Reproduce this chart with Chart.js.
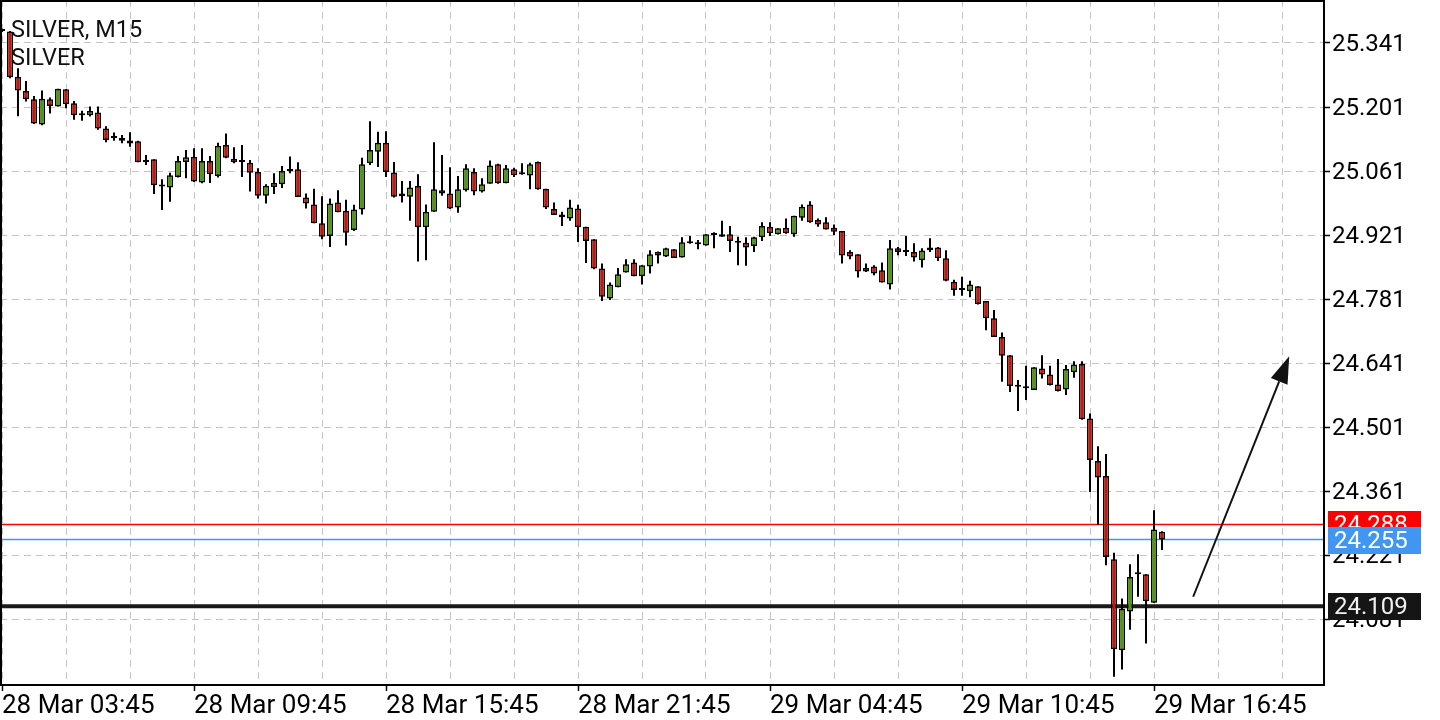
<!DOCTYPE html>
<html>
<head>
<meta charset="utf-8">
<script src="https://cdn.jsdelivr.net/npm/chart.js@4.4.1/dist/chart.umd.min.js"></script>
<style>
  html, body { margin: 0; padding: 0; background: #fff; }
  #wrap { width: 1440px; height: 720px; }
</style>
</head>
<body>
<div id="wrap"><canvas id="chart" width="1440" height="720"></canvas></div>
<script>
// SILVER M15 candles, one entry per bar (bar index = position on the x axis)
const opens = [
  25.369, 25.366, 25.267, 25.236, 25.218, 25.163, 25.218, 25.202, 25.240, 25.209,
  25.183, 25.183, 25.189, 25.154, 25.135, 25.133, 25.128, 25.126, 25.081, 25.087,
  25.027, 25.025, 25.048, 25.081, 25.092, 25.036, 25.083, 25.050, 25.118, 25.088,
  25.081, 25.079, 25.059, 25.007, 25.026, 25.032, 25.065, 25.065, 25.003, 24.988,
  24.947, 24.919, 24.992, 24.974, 24.932, 24.977, 25.078, 25.103, 25.123, 25.058,
  25.012, 25.005, 25.028, 24.938, 24.972, 25.019, 25.012, 24.981, 25.019, 25.059,
  25.016, 25.033, 25.076, 25.034, 25.065, 25.054, 25.051, 25.081, 25.022, 24.978,
  24.966, 24.957, 24.979, 24.939, 24.912, 24.848, 24.782, 24.807, 24.839, 24.861,
  24.831, 24.852, 24.884, 24.874, 24.890, 24.872, 24.903, 24.901, 24.898, 24.921,
  24.923, 24.923, 24.904, 24.904, 24.897, 24.916, 24.939, 24.923, 24.937, 24.923,
  24.959, 24.988, 24.954, 24.949, 24.937, 24.930, 24.884, 24.879, 24.849, 24.852,
  24.844, 24.813, 24.892, 24.884, 24.884, 24.866, 24.894, 24.894, 24.870, 24.819,
  24.801, 24.798, 24.809, 24.777, 24.739, 24.698, 24.658, 24.589, 24.586, 24.582,
  24.629, 24.616, 24.594, 24.583, 24.621, 24.639, 24.520, 24.427, 24.394, 24.212,
  24.013, 24.098, 24.179, 24.179, 24.117, 24.272
];
const highs = [
  25.372, 25.367, 25.286, 25.258, 25.225, 25.237, 25.222, 25.241, 25.240, 25.214,
  25.193, 25.202, 25.202, 25.159, 25.145, 25.140, 25.146, 25.127, 25.096, 25.087,
  25.043, 25.057, 25.094, 25.107, 25.111, 25.111, 25.094, 25.123, 25.143, 25.113,
  25.118, 25.085, 25.067, 25.032, 25.056, 25.072, 25.093, 25.080, 25.012, 25.022,
  25.006, 25.001, 25.019, 24.998, 24.987, 25.090, 25.170, 25.147, 25.148, 25.081,
  25.039, 25.039, 25.054, 24.988, 25.124, 25.096, 25.069, 25.050, 25.076, 25.067,
  25.045, 25.084, 25.077, 25.074, 25.068, 25.078, 25.079, 25.082, 25.022, 24.992,
  24.972, 24.998, 24.987, 24.939, 24.912, 24.859, 24.817, 24.849, 24.868, 24.868,
  24.855, 24.888, 24.885, 24.893, 24.890, 24.916, 24.919, 24.910, 24.923, 24.927,
  24.952, 24.941, 24.917, 24.916, 24.917, 24.949, 24.949, 24.936, 24.957, 24.963,
  24.988, 24.995, 24.957, 24.960, 24.944, 24.930, 24.888, 24.879, 24.859, 24.855,
  24.861, 24.910, 24.895, 24.919, 24.903, 24.892, 24.914, 24.895, 24.888, 24.823,
  24.830, 24.821, 24.809, 24.777, 24.757, 24.708, 24.658, 24.604, 24.635, 24.632,
  24.658, 24.635, 24.650, 24.637, 24.645, 24.645, 24.531, 24.459, 24.442, 24.226,
  24.126, 24.201, 24.223, 24.179, 24.319, 24.273
];
const lows = [
  25.365, 25.264, 25.181, 25.213, 25.164, 25.161, 25.187, 25.202, 25.198, 25.173,
  25.171, 25.180, 25.151, 25.124, 25.127, 25.122, 25.114, 25.080, 25.074, 25.011,
  24.976, 24.994, 25.047, 25.045, 25.037, 25.034, 25.035, 25.047, 25.089, 25.078,
  25.048, 25.016, 25.001, 24.990, 25.011, 25.024, 25.056, 25.004, 24.979, 24.947,
  24.912, 24.895, 24.971, 24.898, 24.930, 24.966, 25.074, 25.070, 25.048, 25.003,
  24.992, 24.952, 24.863, 24.866, 24.972, 25.007, 24.978, 24.970, 25.016, 25.008,
  25.014, 25.033, 25.033, 25.034, 25.048, 25.053, 25.021, 25.020, 24.978, 24.965,
  24.941, 24.952, 24.906, 24.860, 24.846, 24.777, 24.779, 24.807, 24.839, 24.831,
  24.813, 24.837, 24.859, 24.873, 24.871, 24.872, 24.902, 24.890, 24.898, 24.892,
  24.917, 24.884, 24.855, 24.854, 24.884, 24.908, 24.919, 24.922, 24.924, 24.917,
  24.952, 24.948, 24.939, 24.933, 24.921, 24.859, 24.868, 24.828, 24.840, 24.833,
  24.817, 24.802, 24.877, 24.875, 24.863, 24.850, 24.884, 24.864, 24.820, 24.788,
  24.788, 24.785, 24.769, 24.713, 24.698, 24.600, 24.578, 24.536, 24.560, 24.582,
  24.607, 24.592, 24.579, 24.571, 24.609, 24.517, 24.359, 24.287, 24.199, 23.955,
  23.971, 24.058, 24.130, 24.028, 24.117, 24.232
];
const closes = [
  25.367, 25.266, 25.237, 25.218, 25.165, 25.219, 25.203, 25.241, 25.207, 25.183,
  25.183, 25.192, 25.154, 25.129, 25.133, 25.127, 25.121, 25.080, 25.081, 25.030,
  25.027, 25.052, 25.083, 25.091, 25.038, 25.083, 25.054, 25.116, 25.090, 25.080,
  25.081, 25.057, 25.007, 25.029, 25.035, 25.061, 25.061, 25.004, 24.990, 24.947,
  24.917, 24.990, 24.971, 24.926, 24.977, 25.076, 25.107, 25.123, 25.059, 25.005,
  25.006, 25.025, 24.938, 24.972, 25.021, 25.012, 24.979, 25.021, 25.067, 25.016,
  25.032, 25.073, 25.034, 25.067, 25.052, 25.054, 25.076, 25.021, 24.981, 24.965,
  24.960, 24.981, 24.938, 24.908, 24.848, 24.786, 24.813, 24.835, 24.857, 24.831,
  24.855, 24.879, 24.876, 24.892, 24.871, 24.905, 24.903, 24.901, 24.923, 24.921,
  24.917, 24.908, 24.904, 24.894, 24.916, 24.941, 24.925, 24.936, 24.925, 24.963,
  24.983, 24.949, 24.944, 24.933, 24.928, 24.876, 24.874, 24.841, 24.841, 24.837,
  24.817, 24.892, 24.884, 24.884, 24.872, 24.887, 24.888, 24.870, 24.821, 24.801,
  24.801, 24.813, 24.770, 24.739, 24.698, 24.657, 24.591, 24.589, 24.586, 24.632,
  24.616, 24.593, 24.580, 24.628, 24.638, 24.518, 24.429, 24.391, 24.217, 24.015,
  24.104, 24.173, 24.179, 24.120, 24.277, 24.255
];

// axis labels
const timeTicks = [0, 24, 48, 72, 96, 120, 144];
const timeLabels = ['28 Mar 03:45', '28 Mar 09:45', '28 Mar 15:45', '28 Mar 21:45',
                    '29 Mar 04:45', '29 Mar 10:45', '29 Mar 16:45'];
const priceTicks = [24.081, 24.221, 24.361, 24.501, 24.641, 24.781, 24.921, 25.061, 25.201, 25.341];

// price lines: ask, bid, user level
const askPrice = 24.288;
const bidPrice = 24.255;
const levelPrice = 24.109;

// arrow object [bar, price]
const arrowFrom = [148.9, 24.130];
const arrowTo = [160.9, 24.656];

const X_MIN = -0.25, X_MAX = 165.25;
const Y_MIN = 23.937, Y_MAX = 25.435;
const UP = '#4c9a06', DOWN = '#c8140a';
const FONT = 'Roboto';

const idx = opens.map((o, i) => i);
const gridTicks = [];
for (let v = 0; v <= 160; v += 8) gridTicks.push(v);

function hline(price, color, width) {
  return {
    type: 'line',
    data: [{ x: X_MIN, y: price }, { x: X_MAX, y: price }],
    borderColor: color,
    borderWidth: width,
    pointRadius: 0,
    order: 5,
  };
}

const overlay = {
  id: 'overlay',
  afterDraw(chart) {
    const { ctx, chartArea: a, scales: { x, y } } = chart;
    ctx.save();

    // frame
    ctx.strokeStyle = '#000';
    ctx.lineWidth = 2;
    ctx.strokeRect(a.left + 1, a.top + 1, a.right - a.left - 1, a.bottom - a.top - 1);

    // symbol caption
    ctx.fillStyle = '#111';
    ctx.font = '23.5px ' + FONT;
    ctx.textBaseline = 'alphabetic';
    ctx.textAlign = 'left';
    ctx.fillText('SILVER, M15', 11, 37);
    ctx.fillText('SILVER', 11, 65);

    // arrow
    const x1 = x.getPixelForValue(arrowFrom[0]), y1 = y.getPixelForValue(arrowFrom[1]);
    const x2 = x.getPixelForValue(arrowTo[0]), y2 = y.getPixelForValue(arrowTo[1]);
    const ang = Math.atan2(y2 - y1, x2 - x1);
    const hl = 27, hw = 9;
    const bx = x2 - hl * Math.cos(ang), by = y2 - hl * Math.sin(ang);
    ctx.strokeStyle = '#111';
    ctx.lineWidth = 2;
    ctx.beginPath();
    ctx.moveTo(x1, y1);
    ctx.lineTo(bx, by);
    ctx.stroke();
    ctx.fillStyle = '#111';
    ctx.beginPath();
    ctx.moveTo(x2, y2);
    ctx.lineTo(bx + hw * Math.sin(ang), by - hw * Math.cos(ang));
    ctx.lineTo(bx - hw * Math.sin(ang), by + hw * Math.cos(ang));
    ctx.closePath();
    ctx.fill();

    // price boxes on the axis
    ctx.font = '24px ' + FONT;
    ctx.textBaseline = 'middle';
    [[askPrice, '#ff0000', '#fff'], [bidPrice, '#4096f0', '#fff'], [levelPrice, '#151515', '#f0f0f0']]
      .forEach(([p, bg, fg]) => {
        const py = Math.round(y.getPixelForValue(p));
        ctx.fillStyle = bg;
        ctx.fillRect(a.right + 4, py - 13, 93, 27);
        ctx.fillStyle = fg;
        ctx.fillText(p.toFixed(3), a.right + 10, py + 2);
      });
    ctx.restore();
  }
};

new Chart(document.getElementById('chart'), {
  type: 'bar',
  data: {
    datasets: [
      {
        label: 'body',
        data: idx.map(i => ({ x: i, y: [opens[i], closes[i]] })),
        backgroundColor: idx.map(i => closes[i] >= opens[i] ? UP : DOWN),
        borderColor: '#000',
        borderWidth: 1.5,
        borderSkipped: false,
        barThickness: 6,
        minBarLength: 2,
        inflateAmount: 0,
        grouped: false,
        order: 1,
      },
      {
        label: 'wick',
        data: idx.map(i => ({ x: i, y: [lows[i], highs[i]] })),
        backgroundColor: '#000',
        borderWidth: 0,
        barThickness: 2,
        inflateAmount: 0,
        grouped: false,
        order: 2,
      },
      hline(askPrice, '#ff0000', 1.5),
      hline(bidPrice, '#4096f0', 1.5),
      hline(levelPrice, '#1a1a1a', 4),
    ]
  },
  options: {
    responsive: false,
    animation: false,
    devicePixelRatio: 1,
    layout: { padding: 0 },
    plugins: { legend: { display: false }, tooltip: { enabled: false } },
    scales: {
      x: {
        type: 'linear',
        min: X_MIN,
        max: X_MAX,
        offset: false,
        afterBuildTicks: s => { s.ticks = gridTicks.map(v => ({ value: v })); },
        afterFit: s => { s.height = 35; s.paddingLeft = 0; s.paddingRight = 0; },
        grid: {
          offset: false,
          color: '#c4c4c4',
          lineWidth: 1,
          tickLength: 6,
          tickWidth: 1.5,
          tickColor: c => timeTicks.includes(c.tick && c.tick.value) ? '#000' : 'rgba(0,0,0,0)',
        },
        border: { display: false, dash: [7, 5] },
        ticks: {
          autoSkip: false,
          maxRotation: 0,
          align: 'start',
          padding: 0,
          color: '#000',
          font: { family: FONT, size: 26 },
          callback: v => { const j = timeTicks.indexOf(v); return j >= 0 ? timeLabels[j] : ''; },
        },
      },
      y: {
        position: 'right',
        min: Y_MIN,
        max: Y_MAX,
        afterBuildTicks: s => { s.ticks = priceTicks.map(v => ({ value: v })); },
        afterFit: s => { s.width = 116; s.paddingTop = 0; s.paddingBottom = 0; },
        grid: {
          color: '#c4c4c4',
          lineWidth: 1,
          tickLength: 6,
          tickWidth: 1.5,
          tickColor: '#000',
        },
        border: { display: false, dash: [7, 5] },
        ticks: {
          padding: 2,
          labelOffset: 2,
          color: '#000',
          font: { family: FONT, size: 24 },
          callback: v => Number(v).toFixed(3),
        },
      },
    },
  },
  plugins: [overlay],
});
</script>
</body>
</html>
